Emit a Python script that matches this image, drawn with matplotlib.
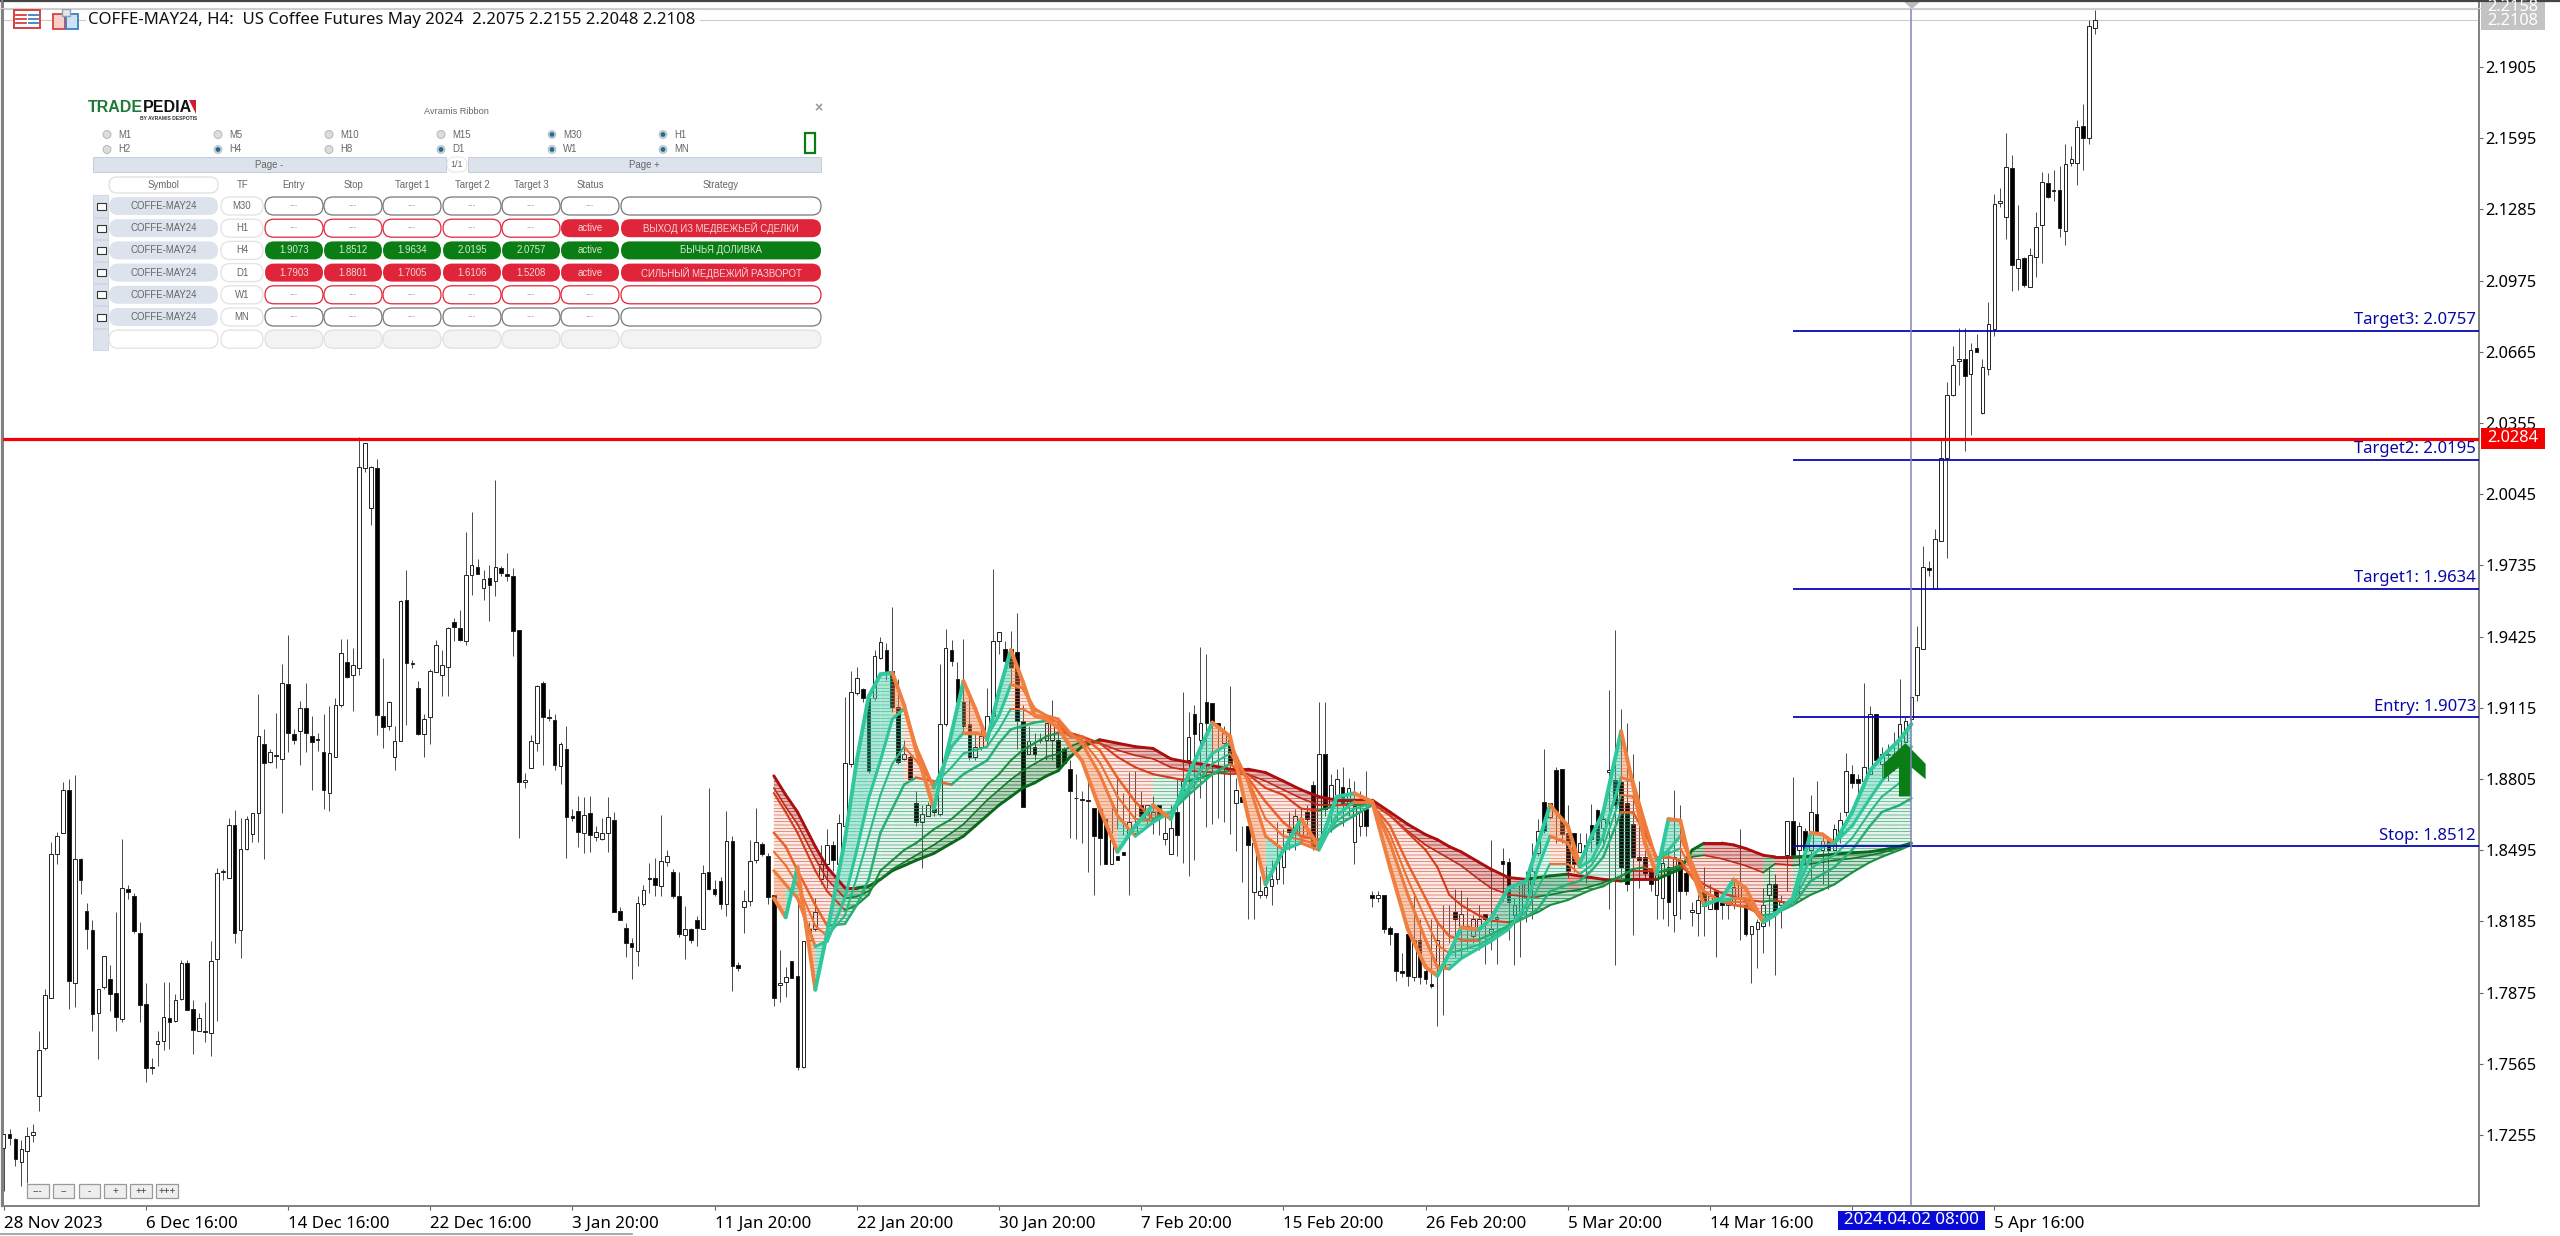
#========================================================================================================================
# COFFE-MAY24 H4 chart with ribbon, trade levels and signal panel
import matplotlib
matplotlib.use('Agg')
import matplotlib.pyplot as plt
import numpy as np
from matplotlib.collections import LineCollection, PolyCollection
from matplotlib.colors import to_rgba
from matplotlib.patches import Circle, FancyBboxPatch, Polygon, Rectangle

plt.rcParams['font.family'] = ['Noto Sans', 'DejaVu Sans']
plt.rcParams['hatch.linewidth'] = 0.45

#========================================================================================================================
# DATA
#========================================================================================================================

highs = [1.7258,1.7281,1.7242,1.7235,1.7288,1.7304,1.7706,1.7891,1.8529,1.8576,1.8794,1.8803,1.8824,1.8460,1.8267,1.8193,1.7891,1.8035,1.7996,1.8228,
1.8546,1.8344,1.8309,1.8181,1.7915,1.7590,1.7706,1.7922,1.7922,1.7868,1.8019,1.8019,1.7845,1.7787,1.7833,1.8100,1.8418,1.8413,1.8634,1.8669,
1.8634,1.8645,1.8657,1.9174,1.9021,1.8935,1.9091,1.9304,1.9430,1.9021,1.9144,1.9225,1.9079,1.9005,1.9086,1.9121,1.9156,1.9416,1.9416,1.9376,
2.0293,2.0269,2.0167,2.0200,1.9330,1.9144,1.9035,1.9585,1.9713,1.9325,1.9230,1.9086,1.9283,1.9411,1.9365,1.9469,1.9508,1.9539,1.9880,1.9968,
1.9764,1.9713,1.9736,2.0107,1.9731,1.9787,1.9724,1.9453,1.8831,1.8998,1.9214,1.9230,1.9109,1.9086,1.8966,1.9035,1.8676,1.8731,1.8727,1.8731,
1.8599,1.8634,1.8727,1.8662,1.8246,1.8177,1.8112,1.8297,1.8344,1.8441,1.8460,1.8650,1.8495,1.8413,1.8402,1.8251,1.8158,1.8209,1.8432,1.8766,
1.8367,1.8379,1.8664,1.8557,1.8007,1.8321,1.8541,1.8680,1.8529,1.8483,1.8301,
1.8061,1.7986,1.8013,1.8286,1.8099,1.8181,1.8286,1.8519,1.8586,1.8534,1.8654,1.9164,1.9276,1.9294,1.9201,1.9179,1.9366,1.9423,1.9396,
1.9554,1.9239,1.8976,1.8909,1.8751,1.8691,1.8706,1.8714,1.9306,1.9456,1.9411,1.9314,1.9414,1.9171,1.9006,1.9021,1.9201,1.9719,1.9444,1.9408,
1.9449,1.9528,1.9126,1.9036,1.9006,1.9006,1.9051,1.9149,1.9051,1.8946,1.8886,1.8826,1.8751,1.8826,1.8676,1.8601,1.8544,1.8571,1.8811,1.8744,
1.8834,1.8841,1.8751,1.8691,1.8729,1.8646,1.8646,1.8691,1.8811,1.9186,1.9096,1.9126,1.9381,1.9348,1.9066,1.9029,1.9036,1.9208,1.8811,1.8601,
1.8526,1.8421,1.8383,1.8428,1.8451,1.8616,1.8586,1.8661,1.8676,1.8676,1.8691,1.8796,1.9141,1.9141,1.8826,1.8849,1.8856,1.8811,1.8796,1.8751,
1.8841,1.8316,1.8316,1.8256,1.8166,1.8136,1.8046,1.8046,1.8301,1.8196,1.8001,1.8196,1.8196,1.8256,1.8256,1.8324,1.8321,1.8291,1.8211,1.8256,
1.8211,1.8541,1.8211,1.8504,1.8459,1.8286,1.8286,1.8406,1.8526,1.8631,1.8934,1.8699,1.8856,1.8849,1.8691,1.8526,1.8571,1.8571,1.8696,1.8676,
1.8651,1.9191,1.9453,1.9111,1.9051,1.8916,1.8796,1.8496,1.8406,1.8421,1.8496,1.8496,1.8758,1.8691,1.8421,1.8271,1.8301,1.8421,1.8346,1.8286,
1.8286,1.8286,1.8376,1.8586,1.8271,1.8166,1.8196,1.8331,1.8421,1.8391,1.8301,1.8566,1.8814,1.8616,1.8591,1.8736,1.8796,1.8556,1.8556,1.8609,
1.8661,1.8919,1.8864,1.8826,1.9224,1.9123,1.9088,1.8946,1.8958,1.9009,1.9239,1.9074,1.9164,1.9471,
1.9820,1.9755,1.9892,2.0284,2.0532,2.0692,2.0769,2.0769,2.0704,2.0744,2.0635,2.0881,2.1351,2.1380,2.1616,2.1523,2.1306,2.1079,2.1117,2.1273,
2.1449,2.1445,2.1457,2.1475,2.1569,2.1561,2.1674,2.1746,2.2108,2.2155]

body_tops = [1.7258,1.7258,1.7239,1.7193,1.7249,1.7270,1.7625,1.7864,1.8478,1.8557,1.8759,1.8759,1.8455,1.8457,1.8232,1.8149,1.7891,1.8035,1.7935,1.7875,
1.8330,1.8328,1.8295,1.8135,1.7826,1.7550,1.7664,1.7771,1.7764,1.7845,1.8005,1.8003,1.7803,1.7764,1.7708,1.8014,1.8395,1.8404,1.8606,1.8604,
1.8499,1.8629,1.8655,1.8993,1.8959,1.8921,1.8910,1.9221,1.9218,1.9003,1.9114,1.9114,1.8993,1.8979,1.8924,1.8919,1.9126,1.9355,1.9314,1.9302,
2.0163,2.0269,2.0163,2.0158,1.9079,1.9140,1.8970,1.9578,1.9585,1.9311,1.9202,1.9065,1.9276,1.9388,1.9300,1.9462,1.9490,1.9464,1.9692,1.9736,
1.9726,1.9675,1.9680,1.9726,1.9722,1.9696,1.9689,1.9453,1.8799,1.8970,1.9211,1.9221,1.9075,1.9063,1.8956,1.8935,1.8645,1.8664,1.8650,1.8655,
1.8576,1.8571,1.8638,1.8627,1.8232,1.8158,1.8093,1.8267,1.8321,1.8376,1.8376,1.8446,1.8471,1.8399,1.8297,1.8151,1.8154,1.8191,1.8395,1.8399,
1.8325,1.8362,1.8534,1.8536,1.7996,1.8274,1.8446,1.8529,1.8522,1.8469,1.8301,
1.7919,1.7941,1.8013,1.7949,1.8099,1.8151,1.8226,1.8436,1.8519,1.8519,1.8612,1.8874,1.9186,1.9246,1.9196,1.9156,1.9339,1.9402,1.9366,
1.9276,1.9118,1.8916,1.8901,1.8699,1.8654,1.8691,1.8676,1.9044,1.9374,1.9366,1.9242,1.9141,1.9044,1.8946,1.8991,1.9081,1.9404,1.9444,1.9369,
1.9369,1.9358,1.9058,1.8969,1.8946,1.8976,1.9051,1.9044,1.8856,1.8876,1.8751,1.8721,1.8714,1.8713,1.8679,1.8676,1.8631,1.8541,1.8454,1.8489,
1.8616,1.8601,1.8691,1.8691,1.8661,1.8691,1.8571,1.8592,1.8661,1.8796,1.8989,1.9089,1.9051,1.9141,1.9134,1.9051,1.9006,1.8976,1.8759,1.8728,
1.8601,1.8526,1.8316,1.8334,1.8369,1.8446,1.8496,1.8586,1.8646,1.8631,1.8661,1.8781,1.8916,1.8916,1.8781,1.8804,1.8771,1.8766,1.8686,1.8661,
1.8676,1.8301,1.8301,1.8301,1.8156,1.8136,1.7968,1.8131,1.8106,1.8106,1.7971,1.7914,1.8106,1.7998,1.8001,1.8226,1.8216,1.8166,1.8196,1.8196,
1.8219,1.8151,1.8206,1.8446,1.8444,1.8256,1.8346,1.8361,1.8346,1.8579,1.8703,1.8699,1.8844,1.8849,1.8571,1.8571,1.8526,1.8516,1.8604,1.8669,
1.8631,1.8836,1.8799,1.8793,1.8701,1.8608,1.8466,1.8466,1.8418,1.8391,1.8441,1.8421,1.8466,1.8451,1.8396,1.8233,1.8278,1.8316,1.8294,1.8321,
1.8270,1.8286,1.8336,1.8346,1.8256,1.8166,1.8181,1.8256,1.8346,1.8346,1.8271,1.8624,1.8624,1.8601,1.8579,1.8661,1.8653,1.8534,1.8541,1.8589,
1.8628,1.8838,1.8826,1.8804,1.8856,1.9088,1.9088,1.8916,1.8909,1.8916,1.9044,1.9058,1.9164,1.9381,
1.9729,1.9724,1.9849,2.0202,2.0477,2.0606,2.0635,2.0635,2.0675,2.0683,2.0597,2.0787,2.1309,2.1323,2.1468,2.1464,2.1067,2.1074,2.1086,2.1210,
2.1404,2.1401,2.1368,2.1371,2.1483,2.1506,2.1643,2.1647,2.2082,2.2108]

body_bots = [1.7198,1.7242,1.7149,1.7137,1.7184,1.7253,1.7425,1.7632,1.7853,1.8478,1.8569,1.7926,1.7919,1.8365,1.8153,1.7782,1.7787,1.7898,1.7868,1.7768,
1.7759,1.8311,1.8144,1.7819,1.7546,1.7546,1.7653,1.7666,1.7746,1.7752,1.7849,1.7798,1.7713,1.7708,1.7704,1.7699,1.8022,1.8399,1.8374,1.8135,
1.8146,1.8502,1.8564,1.8657,1.8875,1.8878,1.8905,1.8891,1.9005,1.8975,1.9012,1.9005,1.8966,1.8975,1.8757,1.8743,1.8901,1.9126,1.9249,1.9258,
1.9288,2.0158,1.9986,1.9082,1.9031,1.9035,1.8901,1.8970,1.9309,1.9304,1.9003,1.9003,1.9075,1.9272,1.9256,1.9293,1.9469,1.9411,1.9406,1.9694,
1.9699,1.9638,1.9650,1.9666,1.9703,1.9687,1.9450,1.8794,1.8794,1.8854,1.8961,1.9075,1.9071,1.8866,1.8861,1.8638,1.8634,1.8576,1.8571,1.8560,
1.8553,1.8546,1.8569,1.8228,1.8193,1.8093,1.8072,1.8058,1.8263,1.8371,1.8344,1.8339,1.8444,1.8297,1.8131,1.8127,1.8102,1.8158,1.8153,1.8325,
1.8304,1.8263,1.8263,1.7991,1.7982,1.8247,1.8274,1.8453,1.8479,1.8293,1.7851,
1.7908,1.7923,1.7938,1.7551,1.7551,1.8106,1.8151,1.8368,1.8436,1.8451,1.8436,1.8601,1.8871,1.9179,1.9156,1.8841,1.9156,1.9333,1.9276,
1.9118,1.8878,1.8893,1.8804,1.8616,1.8616,1.8646,1.8661,1.8654,1.9044,1.9321,1.9141,1.9036,1.8901,1.8901,1.8946,1.8991,1.9081,1.9404,1.9318,
1.9291,1.9058,1.8684,1.8913,1.8913,1.8976,1.8976,1.8976,1.8976,1.8936,1.8849,1.8724,1.8718,1.8711,1.8559,1.8549,1.8436,1.8436,1.8469,1.8476,
1.8571,1.8571,1.8646,1.8631,1.8636,1.8646,1.8544,1.8480,1.8561,1.8727,1.8889,1.9003,1.8976,1.9051,1.9044,1.9031,1.8961,1.8871,1.8702,1.8706,
1.8518,1.8312,1.8301,1.8301,1.8339,1.8368,1.8421,1.8576,1.8571,1.8556,1.8631,1.8511,1.8511,1.8676,1.8691,1.8736,1.8696,1.8691,1.8531,1.8601,
1.8601,1.8286,1.8286,1.8151,1.8129,1.7971,1.7962,1.7949,1.7941,1.7941,1.7934,1.7906,1.7996,1.7986,1.8001,1.8196,1.8166,1.8151,1.8121,1.8151,
1.8196,1.8131,1.8196,1.8436,1.8271,1.8211,1.8211,1.8286,1.8406,1.8481,1.8579,1.8639,1.8661,1.8564,1.8406,1.8437,1.8489,1.8496,1.8546,1.8516,
1.8591,1.8846,1.8691,1.8421,1.8346,1.8466,1.8451,1.8396,1.8346,1.8301,1.8286,1.8271,1.8211,1.8318,1.8316,1.8226,1.8221,1.8253,1.8240,1.8241,
1.8256,1.8256,1.8256,1.8286,1.8129,1.8129,1.8151,1.8166,1.8301,1.8219,1.8256,1.8473,1.8473,1.8496,1.8496,1.8496,1.8571,1.8496,1.8496,1.8496,
1.8556,1.8661,1.8788,1.8789,1.8796,1.8826,1.8886,1.8871,1.8916,1.8916,1.8916,1.8966,1.9066,1.9171,
1.9373,1.9717,1.9634,1.9841,2.0202,2.0477,2.0625,2.0560,2.0568,2.0666,2.0398,2.0589,2.0766,2.1313,2.1251,2.1041,2.1031,2.0955,2.0948,2.1079,
2.1217,2.1337,2.1365,2.1205,2.1193,2.1485,2.1485,2.1598,2.1595,2.2075]

lows = [1.7012,1.7211,1.7121,1.7031,1.7046,1.7225,1.7358,1.7625,1.7853,1.8437,1.8569,1.7803,1.7812,1.8304,1.8066,1.7709,1.7585,1.7891,1.7794,1.7710,
1.7746,1.8281,1.8135,1.7747,1.7485,1.7520,1.7555,1.7625,1.7629,1.7748,1.7845,1.7798,1.7606,1.7706,1.7659,1.7597,1.7753,1.8367,1.8374,1.8093,
1.8026,1.8495,1.8529,1.8529,1.8455,1.8873,1.8854,1.8657,1.8924,1.8959,1.8866,1.8924,1.8757,1.8929,1.8673,1.8664,1.8901,1.9119,1.9244,1.9103,
1.9256,2.0142,1.9910,1.8998,1.8940,1.9017,1.8843,1.8970,1.9040,1.9288,1.8998,1.8901,1.8959,1.9272,1.9167,1.9167,1.9406,1.9404,1.9388,1.9608,
1.9701,1.9585,1.9492,1.9601,1.9689,1.9666,1.9341,1.8548,1.8768,1.8854,1.8929,1.8866,1.9056,1.8843,1.8785,1.8460,1.8622,1.8511,1.8483,1.8488,
1.8537,1.8541,1.8488,1.8228,1.8193,1.8031,1.7933,1.7991,1.8251,1.8309,1.8297,1.8297,1.8425,1.8286,1.8116,1.8023,1.8089,1.8077,1.8153,1.8321,
1.8297,1.8239,1.8209,1.7880,1.7971,1.8135,1.8251,1.8441,1.8472,1.8263,1.7815,
1.7836,1.7858,1.7938,1.7536,1.7548,1.8083,1.8144,1.8346,1.8331,1.8406,1.8429,1.8601,1.8856,1.9171,1.9141,1.8833,1.9149,1.9328,1.9238,
1.9096,1.8871,1.8886,1.8796,1.8601,1.8418,1.8646,1.8646,1.8646,1.9036,1.9299,1.9126,1.9006,1.8886,1.8886,1.8931,1.8946,1.9073,1.9351,1.9306,
1.9216,1.8934,1.8946,1.8946,1.8886,1.8961,1.8886,1.8886,1.8886,1.8886,1.8549,1.8546,1.8526,1.8401,1.8301,1.8429,1.8571,1.8681,1.8586,1.8561,
1.8301,1.8576,1.8681,1.8601,1.8565,1.8561,1.8518,1.8496,1.8471,1.8441,1.8381,1.8451,1.8721,1.8598,1.8611,1.8636,1.8616,1.8567,1.8491,1.8358,
1.8196,1.8196,1.8286,1.8286,1.8256,1.8346,1.8346,1.8496,1.8496,1.8526,1.8561,1.8496,1.8496,1.8646,1.8576,1.8631,1.8601,1.8646,1.8436,1.8556,
1.8556,1.8249,1.8271,1.8136,1.8084,1.7926,1.7941,1.7904,1.7926,1.7911,1.7911,1.7896,1.7731,1.7776,1.8091,1.8031,1.8031,1.8061,1.8091,1.8061,
1.8001,1.8061,1.8001,1.8271,1.8106,1.7996,1.8031,1.8181,1.8196,1.8471,1.8571,1.8631,1.8526,1.8526,1.8376,1.8399,1.8481,1.8351,1.8486,1.8496,
1.8506,1.8241,1.7996,1.8376,1.8316,1.8126,1.8331,1.8376,1.8316,1.8196,1.8196,1.8166,1.8141,1.8196,1.8301,1.8166,1.8121,1.8121,1.8241,1.8031,
1.8196,1.8196,1.8241,1.8106,1.8121,1.7918,1.7981,1.8046,1.8166,1.7951,1.8156,1.8316,1.8466,1.8286,1.8404,1.8361,1.8566,1.8346,1.8324,1.8526,
1.8526,1.8646,1.8766,1.8736,1.8766,1.8871,1.8871,1.8796,1.8796,1.8841,1.8901,1.8998,1.9051,1.9144,
1.9373,1.9689,1.9631,1.9841,1.9768,2.0474,2.0520,2.0233,2.0302,2.0663,2.0394,2.0563,2.0735,2.1294,2.1156,2.0928,2.0933,2.0947,2.0945,2.0990,
2.1053,2.1334,2.1320,2.1165,2.1131,2.1475,2.1392,2.1457,2.1569,2.2048]

# u = white candle, d = black candle, ten bars per row
candle_dirs = """
u d d u u u u u u u
u d u d d d u u d d
u d d d d d u u d u
u d d u d u u u u d
u u u u d u d u d d
u d d d d u u u d u
u u u d d u u u d d
d u u u u u d d u u
d u d u d d d d u u
u d d d u d d d u d
u u u d d d d u u d
d u u d d u d d u d
d d u d d u u u d d
d u u d d u u u u u
d u u u u d d u u d
d d u d d u u d u u
d d d d u u u u u d
d d d u d u u u d d
d d d d d d d u d d
u u d u u d u u d u
u d u d d d u d u d
d u u u u u u d u u
d d u d u u d u u u
d d u d d d d d u d
d d u u d d u u u u
d u u d d u u u u u
d u d d d d u u d d
u u d d d d d d d u
u d u d d u u d u d
d u u u d u u u u d
u u d u d u d u d u
u u d d u u d u u u
u u u u u d u u u u
u d u d u u u u u d
u d u u u d d d u u
u d u u
""".split()

# ribbon curves, sampled at rib_bars (fast line first, slow line last)
rib_bars = [130,132,134,137,139,142,144,146,148,150,152,154,157,160,162,164,166,168,170,172,174,176,178,180,182,185,188,191,194,197,200,204,207,210,213,216,219,222,225,228,231,234,237,240,242,
            244,246,249,251,254,257,259,261,264,266,268,270,273,275,277,279,281,283,285,287,290,292,294,297,299,302,305,307,309,312,315,317,320,322]

rib_fast = [1.8286,1.8203,1.8421,1.7888,1.8136,1.8541,1.8886,1.9164,1.9261,1.9268,1.9126,1.8931,1.8676,1.9006,1.9231,1.9111,1.8976,1.9186,1.9366,1.9231,
            1.9081,1.9066,1.9028,1.8946,1.8886,1.8676,1.8488,1.8601,1.8691,1.8631,1.8826,1.9051,1.8991,1.8646,1.8346,1.8496,1.8631,1.8511,1.8728,1.8743,
            1.8706,1.8421,1.8151,1.7986,1.7948,
            1.8046,1.8158,1.8151,1.8196,1.8331,1.8361,1.8526,1.8691,1.8601,1.8436,1.8556,1.8661,1.9013,1.8781,1.8526,1.8391,1.8631,1.8624,1.8406,1.8256,
            1.8286,1.8368,1.8331,1.8181,1.8219,1.8286,1.8571,1.8564,1.8526,1.8661,1.8841,1.8901,1.8976,1.9044]
rib_second = [1.8406,1.8346,1.8286,1.8076,1.8098,1.8286,1.8496,1.8721,1.8886,1.9066,1.9111,1.8946,1.8766,1.8946,1.9006,1.9006,1.8991,1.9081,1.9216,1.9201,
              1.9111,1.9081,1.9066,1.9006,1.8961,1.8826,1.8646,1.8556,1.8616,1.8661,1.8766,1.8916,1.8961,1.8796,1.8556,1.8496,1.8526,1.8496,1.8646,1.8706,
              1.8706,1.8526,1.8301,1.8106,1.7986,
              1.7978,1.8023,1.8068,1.8098,1.8151,1.8256,1.8421,1.8556,1.8526,1.8421,1.8451,1.8556,1.8811,1.8796,1.8616,1.8451,1.8496,1.8556,1.8436,1.8316,
              1.8271,1.8286,1.8286,1.8181,1.8211,1.8286,1.8466,1.8511,1.8526,1.8601,1.8721,1.8796,1.8886,1.8946]
rib_third = [1.8489,1.8429,1.8346,1.8166,1.8121,1.8211,1.8376,1.8556,1.8736,1.8871,1.8946,1.8886,1.8781,1.8856,1.8916,1.8931,1.8946,1.9021,1.9111,1.9111,
             1.9081,1.9073,1.9051,1.8998,1.8976,1.8878,1.8728,1.8631,1.8623,1.8661,1.8751,1.8871,1.8916,1.8803,1.8631,1.8556,1.8541,1.8518,1.8623,1.8676,
             1.8698,1.8563,1.8368,1.8196,1.8083,
             1.8046,1.8061,1.8083,1.8113,1.8158,1.8229,1.8331,1.8436,1.8436,1.8391,1.8429,1.8511,1.8736,1.8728,1.8593,1.8458,1.8481,1.8503,1.8406,1.8316,
             1.8271,1.8271,1.8268,1.8196,1.8214,1.8271,1.8413,1.8451,1.8473,1.8548,1.8661,1.8728,1.8788,1.8833]
rib_mid = [1.8571,1.8511,1.8406,1.8256,1.8166,1.8174,1.8256,1.8368,1.8571,1.8676,1.8781,1.8811,1.8796,1.8781,1.8826,1.8856,1.8886,1.8961,1.9021,1.9036,
           1.9051,1.9058,1.9036,1.8991,1.8991,1.8931,1.8811,1.8706,1.8631,1.8661,1.8736,1.8826,1.8871,1.8811,1.8706,1.8616,1.8556,1.8541,1.8601,1.8646,
           1.8691,1.8601,1.8436,1.8286,1.8181,
           1.8121,1.8106,1.8106,1.8128,1.8166,1.8204,1.8241,1.8316,1.8346,1.8361,1.8406,1.8466,1.8661,1.8661,1.8571,1.8466,1.8466,1.8451,1.8376,1.8316,
           1.8271,1.8256,1.8248,1.8211,1.8219,1.8256,1.8361,1.8391,1.8421,1.8496,1.8601,1.8661,1.8691,1.8721]
rib_slowish = [1.8744,1.8661,1.8571,1.8406,1.8316,1.8234,1.8256,1.8301,1.8406,1.8451,1.8496,1.8526,1.8586,1.8631,1.8676,1.8721,1.8781,1.8826,1.8886,1.8931,
               1.8961,1.8991,1.9006,1.9006,1.8991,1.8961,1.8901,1.8856,1.8826,1.8811,1.8796,1.8826,1.8841,1.8826,1.8766,1.8736,1.8676,1.8668,1.8691,1.8691,
               1.8698,1.8646,1.8571,1.8496,1.8421,
               1.8301,1.8256,1.8211,1.8188,1.8181,1.8204,1.8226,1.8256,1.8278,1.8301,1.8323,1.8338,1.8383,1.8413,1.8421,1.8398,1.8413,1.8428,1.8383,1.8346,
               1.8308,1.8293,1.8278,1.8271,1.8278,1.8256,1.8301,1.8323,1.8346,1.8398,1.8443,1.8466,1.8496,1.8518]
rib_inner = [1.8766,1.8684,1.8608,1.8458,1.8368,1.8286,1.8293,1.8316,1.8368,1.8413,1.8443,1.8473,1.8518,1.8571,1.8608,1.8661,1.8713,1.8758,1.8803,1.8841,
             1.8871,1.8901,1.8916,1.8946,1.8968,1.8961,1.8931,1.8908,1.8893,1.8856,1.8841,1.8833,1.8826,1.8826,1.8796,1.8758,1.8721,1.8691,1.8691,1.8698,
             1.8698,1.8646,1.8578,1.8518,1.8488,
             1.8458,1.8428,1.8368,1.8331,1.8301,1.8293,1.8293,1.8301,1.8316,1.8323,1.8338,1.8353,1.8383,1.8406,1.8406,1.8398,1.8406,1.8421,1.8466,1.8473,
             1.8458,1.8443,1.8428,1.8398,1.8436,1.8429,1.8436,1.8443,1.8451,1.8459,1.8473,1.8484,1.8504,1.8523]
rib_slow = [1.8819,1.8736,1.8661,1.8511,1.8421,1.8331,1.8331,1.8338,1.8368,1.8406,1.8428,1.8451,1.8481,1.8526,1.8556,1.8601,1.8646,1.8691,1.8728,1.8766,
            1.8788,1.8818,1.8841,1.8901,1.8946,1.8976,1.8961,1.8946,1.8938,1.8893,1.8878,1.8863,1.8848,1.8848,1.8833,1.8796,1.8758,1.8728,1.8713,1.8713,
            1.8713,1.8661,1.8608,1.8563,1.8541,
            1.8511,1.8488,1.8443,1.8413,1.8376,1.8368,1.8376,1.8383,1.8391,1.8383,1.8376,1.8368,1.8361,1.8368,1.8368,1.8368,1.8391,1.8413,1.8496,1.8526,
            1.8526,1.8518,1.8503,1.8473,1.8466,1.8466,1.8469,1.8473,1.8478,1.8484,1.8488,1.8496,1.8511,1.8526]

price_ticks = [2.1905,2.1595,2.1285,2.0975,2.0665,2.0355,2.0045,1.9735,1.9425,1.9115,1.8805,1.8495,1.8185,1.7875,1.7565,1.7255]
date_bars = [0,24,48,72,96,120,144,168,192,216,240,264,288,312,336]
date_labels = ['28 Nov 2023','6 Dec 16:00','14 Dec 16:00','22 Dec 16:00','3 Jan 20:00','11 Jan 20:00','22 Jan 20:00','30 Jan 20:00',
               '7 Feb 20:00','15 Feb 20:00','26 Feb 20:00','5 Mar 20:00','14 Mar 16:00','','5 Apr 16:00']

level_names = ['Stop','Entry','Target1','Target2','Target3']
level_values = [1.8512,1.9073,1.9634,2.0195,2.0757]
level_start_bar = 302
signal_bar = 322
red_level = 2.0284
last_close = 2.2108
last_high = 2.2158

panel_timeframes = ['M1','M5','M10','M15','M30','H1','H2','H4','H8','D1','W1','MN']
panel_selected = ['H4','D1','M30','H1','W1','MN']
panel_tf = ['M30','H1','H4','D1','W1','MN']
panel_entry = ['---','---','1.9073','1.7903','---','---']
panel_stop = ['---','---','1.8512','1.8801','---','---']
panel_t1 = ['---','---','1.9634','1.7005','---','---']
panel_t2 = ['---','---','2.0195','1.6106','---','---']
panel_t3 = ['---','---','2.0757','1.5208','---','---']
panel_status = ['---','active','active','active','---','---']
panel_strategy = ['','ВЫХОД ИЗ МЕДВЕЖЬЕЙ СДЕЛКИ','БЫЧЬЯ ДОЛИВКА','СИЛЬНЫЙ МЕДВЕЖИЙ РАЗВОРОТ','','']
panel_state = ['none','bear','bull','bear','bear','none']
zoom_buttons = ['---','--','-','+','++','+++']

#========================================================================================================================
# MAIN CHART
#========================================================================================================================

fig = plt.figure(figsize=(25.6, 12.36), dpi=100, facecolor='white')
ax = fig.add_axes([3/2560, 30/1236, 2476/2560, 1204/1236])
ax.set_xlim(-0.1, 417.8)
ax.set_ylim(1.6946, 2.2188)

bars = np.arange(len(highs))
tops = np.array(body_tops)
bots = np.array(body_bots)

ax.vlines(bars, lows, highs, color='#4a4a4a', linewidth=0.7, zorder=2)
ax.bar(bars, tops - bots, bottom=bots, width=0.62, color=['white' if c == 'u' else 'black' for c in candle_dirs],
       edgecolor='#222222', linewidth=0.7, zorder=3)

# ribbon: hatched bands between the curves, slow bands first so the fast ones lie on top
rib_x = np.array(rib_bars)
curves = [np.array(c) for c in (rib_fast, rib_second, rib_third, rib_mid, rib_slowish, rib_inner, rib_slow)]
band_up = ['#35c29a', '#3ab98d', '#35ab80', '#2f9e69', '#157a30', '#0e6a20']
band_down = ['#ef7d45', '#e96f3e', '#e76a3c', '#e0573a', '#c9351f', '#a81410']
band_alpha = [0.38, 0.14, 0.14, 0.12, 0.14, 0.3]

for k in range(5, -1, -1):
    a = curves[k]
    b = curves[k + 1]
    going_up = (np.diff(a) + np.diff(b)) > 0
    for mask, colour in ((going_up, band_up[k]), (~going_up, band_down[k])):
        verts = [[(rib_x[j], a[j]), (rib_x[j + 1], a[j + 1]), (rib_x[j + 1], b[j + 1]), (rib_x[j], b[j])] for j in np.flatnonzero(mask)]
        ax.add_collection(PolyCollection(verts, facecolors=to_rgba(colour, band_alpha[k]), edgecolors=colour,
                                         hatch='-----', linewidths=0, zorder=4))

line_up = ['#2fc79c', '#2fc49a', '#2cb985', '#2aae78', '#1b8e42', '#127a2c', '#0a6a1c']
line_down = ['#f08040', '#ee7a3c', '#ec6f34', '#e8622c', '#d43c1c', '#c02a18', '#ab0f0f']
line_width = [2.8, 2.2, 1.5, 1.8, 1.5, 1.2, 2.1]
for k in range(6, -1, -1):
    c = curves[k]
    segs = np.stack([np.column_stack([rib_x[:-1], c[:-1]]), np.column_stack([rib_x[1:], c[1:]])], axis=1)
    cols = [line_up[k] if d > 0 else line_down[k] for d in np.diff(c)]
    ax.add_collection(LineCollection(segs, colors=cols, linewidths=line_width[k], capstyle='round', zorder=5))

# signal arrow
ax.add_patch(Polygon([(317.3, 1.8804), (317.3, 1.8871), (321, 1.8961), (324.4, 1.8871), (324.4, 1.8804), (322, 1.8856),
                      (322, 1.8729), (319.9, 1.8729), (319.9, 1.8856)], closed=True, facecolor='#0a7d14', edgecolor='none', zorder=6))

# levels
for name, value in zip(level_names, level_values):
    ax.hlines(value, level_start_bar, 417.8, color='#0808b8', linewidth=1.3, zorder=6)
    ax.text(417.3, value + 0.0012, f'{name}: {value:.4f}', color='#0808a8', fontsize=12, ha='right', va='bottom', zorder=7)

ax.axvline(signal_bar, color='#7f86bd', linewidth=1.3, alpha=0.85, zorder=7)
ax.axhline(red_level, color='#f40000', linewidth=2.3, zorder=8)
ax.axhline(last_close, color='#cccccc', linewidth=0.8, zorder=1)
ax.axhline(last_high, color='#cccccc', linewidth=0.8, zorder=1)

ax.yaxis.tick_right()
ax.set_yticks(price_ticks)
ax.set_yticklabels([f'{p:.4f}' for p in price_ticks])
ax.set_xticks(date_bars)
ax.set_xticklabels(date_labels, ha='left')
ax.tick_params(axis='y', length=3, width=0.8, color='#666666', labelsize=11.8, pad=1.5)
ax.tick_params(axis='x', length=3, width=0.8, color='#666666', labelsize=12.2, pad=4)
for side in ax.spines:
    ax.spines[side].set_color('#808080')
    ax.spines[side].set_linewidth(1.4)
ax.spines['top'].set_visible(False)

#========================================================================================================================
# SCREEN OVERLAY (panel, tags, buttons), drawn in screen pixels
#========================================================================================================================

ui = fig.add_axes([0, 0, 1, 1], zorder=10)
ui.set_xlim(0, 2560)
ui.set_ylim(1236, 0)
ui.axis('off')
ui.patch.set_alpha(0)


def pill(x0, x1, yc, h, fc, ec, lw=1.0):
    ui.add_patch(FancyBboxPatch((x0, yc - h/2), x1 - x0, h, boxstyle=f'round,pad=0,rounding_size={h/2}', facecolor=fc, edgecolor=ec, linewidth=lw))


def label(x, y, s, color='#666666', size=6.9, ha='center', **kw):
    ui.text(x, y, s, color=color, fontsize=size, ha=ha, va='center', family=['Liberation Sans', 'DejaVu Sans'], **kw)


# window edges
ui.plot([0, 2560], [0.8, 0.8], color='#444444', linewidth=1.6)
ui.plot([1.5, 1.5], [0, 1206], color='#808080', linewidth=1.6)
ui.plot([0, 632], [1234, 1234], color='#9a9a9a', linewidth=1.2)
ui.plot([0, 2480], [8, 8], color='#cfcfcf', linewidth=0.8)

# title bar icons and text
ui.add_patch(Rectangle((14, 10), 26, 18, facecolor='white', edgecolor='#d84040', linewidth=1.4))
for yy in (15, 19, 23):
    ui.plot([16, 26], [yy, yy], color='#d84040', linewidth=1.3)
    ui.plot([29, 38], [yy, yy], color='#3f7fc0', linewidth=1.3)
ui.add_patch(Rectangle((53, 14), 12, 15, facecolor='#f6d0c8', edgecolor='#d84040', linewidth=1.3))
ui.add_patch(Rectangle((66, 14), 12, 15, facecolor='#cfe2f5', edgecolor='#3f7fc0', linewidth=1.3))
ui.add_patch(Rectangle((62, 9), 8, 7, facecolor='#e6e6e6', edgecolor='#8aa0b5', linewidth=1))
ui.add_patch(Rectangle((86, 10), 614, 20, facecolor='white', edgecolor='none'))
ui.text(88, 20, 'COFFE-MAY24, H4:  US Coffee Futures May 2024  2.2075 2.2155 2.2048 2.2108', fontsize=12.05, color='#111111', ha='left', va='center')

# right hand tags
ui.add_patch(Rectangle((2481, 2), 64, 28, facecolor='#c3c3c3', edgecolor='none'))
ui.text(2513, 7, f'{last_high:.4f}', color='white', fontsize=11.8, ha='center', va='center')
ui.add_patch(Rectangle((2481, 13), 64, 17, facecolor='#c3c3c3', edgecolor='none'))
ui.text(2513, 21, f'{last_close:.4f}', color='white', fontsize=11.8, ha='center', va='center')
ui.add_patch(Rectangle((2481, 428), 64, 21, facecolor='#f40000', edgecolor='none'))
ui.text(2513, 438, f'{red_level:.4f}', color='white', fontsize=11.8, ha='center', va='center')

# crosshair markers
ui.add_patch(Polygon([(1903, 1), (1921, 1), (1912, 9)], closed=True, facecolor='#bdbdbd', edgecolor='none'))
ui.add_patch(Rectangle((1838, 1211), 147, 19, facecolor='#0a0ad8', edgecolor='none'))
ui.text(1911.5, 1220.5, '2024.04.02 08:00', color='white', fontsize=12.2, ha='center', va='center')

# zoom buttons
for n, txt in enumerate(zoom_buttons):
    x0 = 27 + n*25.8
    ui.add_patch(Rectangle((x0, 1184), 21.5, 14, facecolor='#eeeeee', edgecolor='#9a9a9a', linewidth=0.9))
    label(x0 + 10.7, 1191, txt, color='#444444', size=7)

# panel header
ui.text(88, 108, 'TRADE', color='#1f7a3a', fontsize=11.5, weight='bold', ha='left', va='center', family='Liberation Sans')
ui.text(143, 108, 'PEDIA', color='#111111', fontsize=11.5, weight='bold', ha='left', va='center', family='Liberation Sans')
ui.add_patch(Polygon([(189, 100), (196, 100), (196, 114)], closed=True, facecolor='#cc2030', edgecolor='none'))
label(169, 119, 'BY AVRAMIS DESPOTIS', color='#333333', size=3.6, weight='bold')
label(456, 112, 'Avramis Ribbon', size=6.6)
label(818, 108, '×', color='#999999', size=10, weight='bold')
ui.add_patch(Rectangle((805, 133), 10, 20, facecolor='none', edgecolor='#0a7d14', linewidth=1.6))

radio_xs = [107, 218, 329, 441, 552, 663]
for n, tf in enumerate(panel_timeframes):
    rx = radio_xs[n % 6]
    ry = 134.5 if n < 6 else 149.5
    if tf in panel_selected:
        ui.add_patch(Circle((rx, ry), 4, facecolor='#c9d6de', edgecolor='#a9b6be', linewidth=0.5))
        ui.add_patch(Circle((rx, ry), 2.4, facecolor='#2a6a8c', edgecolor='none'))
    else:
        ui.add_patch(Circle((rx, ry), 4, facecolor='#dcdcdc', edgecolor='#b0b0b0', linewidth=0.6))
    label(rx + 11, ry, tf, ha='left', size=6.9)

ui.add_patch(Rectangle((93, 157), 353, 15, facecolor='#dde3ec', edgecolor='#c5ccd6', linewidth=0.7))
ui.add_patch(Rectangle((468, 157), 353, 15, facecolor='#dde3ec', edgecolor='#c5ccd6', linewidth=0.7))
label(269, 164.5, 'Page -', size=6.9)
label(644, 164.5, 'Page +', size=6.9)
pill(447, 467, 164.5, 15, 'white', '#e4e4e4', 0.7)
label(457, 164.5, '1/1', size=6.5)

# panel table
columns = [(265, 323), (324, 382), (383, 441), (443, 501), (502, 560), (561, 619), (621, 821)]
headers = ['Entry', 'Stop', 'Target 1', 'Target 2', 'Target 3', 'Status', 'Strategy']
cells = [panel_entry, panel_stop, panel_t1, panel_t2, panel_t3, panel_status, panel_strategy]
state_colour = {'bull': '#0a7d14', 'bear': '#e0243a', 'none': '#777777'}

pill(109, 218, 185, 16, 'white', '#e2e2e2')
label(163.5, 185, 'Symbol')
label(243, 185, 'TF')
for (x0, x1), head in zip(columns, headers):
    label((x0 + x1)/2, 185, head)

row_ys = [206 + 22.2*n for n in range(7)]
for n, yc in enumerate(row_ys):
    ui.add_patch(Rectangle((93, yc - 10.6), 15, 21.2, facecolor='#dde3ec', edgecolor='#c5ccd6', linewidth=0.5))
    if n < 6:
        ui.add_patch(Rectangle((96.5, yc - 3.5), 9, 7, facecolor='white', edgecolor='#333333', linewidth=0.8))
        pill(109, 218, yc, 18, '#dde3ec', 'none')
        label(163.5, yc, 'COFFE-MAY24')
        pill(221, 263, yc, 18, 'white', '#e4e4e4')
        label(242, yc, panel_tf[n])
        colour = state_colour[panel_state[n]]
        for (x0, x1), col in zip(columns, cells):
            txt = col[n]
            if txt in ('---', ''):
                pill(x0, x1, yc, 18, 'white', colour, 0.9)
                label((x0 + x1)/2, yc, txt, color='#999999', size=6)
            else:
                pill(x0, x1, yc, 18, colour, 'none')
                label((x0 + x1)/2, yc, txt, color='#f2d8d8' if panel_state[n] == 'bear' else '#d5ead5')
    else:
        pill(109, 218, yc, 18, 'white', '#e4e4e4')
        pill(221, 263, yc, 18, 'white', '#e4e4e4')
        for x0, x1 in columns:
            pill(x0, x1, yc, 18, '#f3f3f3', '#e2e2e2')

fig.savefig('out.png', dpi=100)
